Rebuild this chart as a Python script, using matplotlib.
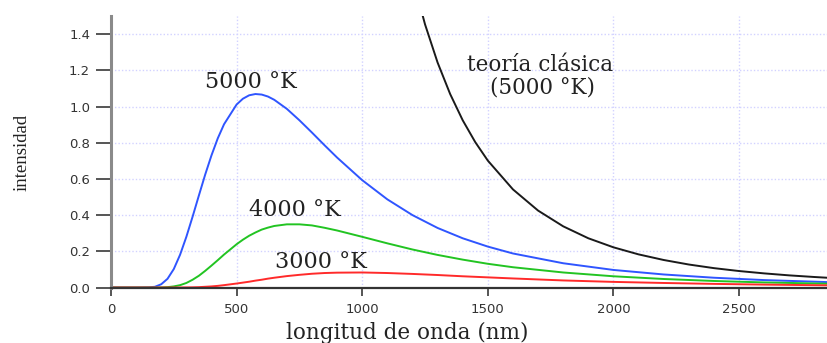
import matplotlib.pyplot as plt

# wavelength samples (nm) for the Planck curves
wavelengths = [0, 100, 150, 175, 200, 225, 250, 275, 300, 325, 350, 375, 400, 425, 450,
               500, 525, 550, 575, 600, 625, 650, 700, 750, 800, 850, 900, 1000, 1100,
               1200, 1300, 1400, 1500, 1600, 1800, 2000, 2200, 2400, 2600, 2850]

intensity_5000 = [0, 0, 0.001, 0.004, 0.018, 0.048, 0.102, 0.181, 0.280, 0.392, 0.509,
                  0.624, 0.730, 0.824, 0.902, 1.011, 1.043, 1.062, 1.069, 1.066, 1.055,
                  1.037, 0.987, 0.924, 0.856, 0.786, 0.718, 0.593, 0.487, 0.400, 0.329,
                  0.272, 0.226, 0.188, 0.134, 0.097, 0.072, 0.054, 0.041, 0.030]

intensity_4000 = [0, 0, 0, 0, 0.0005, 0.002, 0.006, 0.013, 0.025, 0.043, 0.065, 0.092,
                  0.121, 0.151, 0.182, 0.239, 0.264, 0.286, 0.304, 0.320, 0.331, 0.340,
                  0.349, 0.349, 0.343, 0.330, 0.315, 0.280, 0.244, 0.210, 0.180, 0.154,
                  0.131, 0.112, 0.083, 0.062, 0.047, 0.036, 0.028, 0.021]

intensity_3000 = [0, 0, 0, 0, 0, 0, 0, 0.0002, 0.0005, 0.001, 0.002, 0.004, 0.006, 0.009,
                  0.013, 0.022, 0.027, 0.032, 0.038, 0.043, 0.049, 0.054, 0.063, 0.070,
                  0.076, 0.080, 0.082, 0.083, 0.080, 0.075, 0.069, 0.062, 0.056, 0.050,
                  0.039, 0.031, 0.025, 0.020, 0.016, 0.012]

# classical theory (Rayleigh-Jeans) at 5000 K
classic_wavelengths = [1200, 1250, 1300, 1350, 1400, 1450, 1500, 1600, 1700, 1800, 1900,
                       2000, 2100, 2200, 2300, 2400, 2500, 2600, 2700, 2800, 2850]
classic_5000 = [1.712, 1.454, 1.243, 1.069, 0.924, 0.803, 0.701, 0.542, 0.425, 0.338,
                0.272, 0.222, 0.183, 0.152, 0.127, 0.107, 0.091, 0.078, 0.067, 0.058,
                0.054]

x_ticks = [0, 500, 1000, 1500, 2000, 2500]
y_ticks = [0.0, 0.2, 0.4, 0.6, 0.8, 1.0, 1.2, 1.4]

fig = plt.figure(figsize=(8.27, 3.43), dpi=100)
ax = fig.add_axes([0.1342, 0.1618, 0.8658, 0.7915])

ax.plot(classic_wavelengths, classic_5000, color='#1a1a1a', lw=1.4)
ax.plot(wavelengths, intensity_5000, color='#2f55ff', lw=1.4)
ax.plot(wavelengths, intensity_4000, color='#22c422', lw=1.4)
ax.plot(wavelengths, intensity_3000, color='#ff2a2a', lw=1.4)

ax.set_xlim(0, 2850)
ax.set_ylim(0, 1.5)
ax.set_xticks(x_ticks)
ax.set_yticks(y_ticks)
ax.set_yticklabels([f'{v:.1f}' for v in y_ticks])

ax.grid(True, color='#d2d2ff', linestyle=(0, (1, 1.5)), lw=1.0)
ax.set_axisbelow(True)

for side in ['top', 'right']:
    ax.spines[side].set_visible(False)
ax.spines['left'].set_color('#8a8a8a')
ax.spines['left'].set_linewidth(2.2)
ax.spines['bottom'].set_color('#333333')
ax.spines['bottom'].set_linewidth(1.6)

ax.tick_params(axis='y', length=11, width=1.4, color='#555555', pad=4,
               labelsize=9.5, labelcolor='#333333')
ax.tick_params(axis='x', length=6, width=1.4, color='#555555', pad=5,
               labelsize=9.5, labelcolor='#333333')

serif = 'DejaVu Serif'
ax.text(557, 1.133, '5000 °K', family=serif, fontsize=16, ha='center', va='center', color='#222222')
ax.text(732, 0.43, '4000 °K', family=serif, fontsize=16, ha='center', va='center', color='#222222')
ax.text(836, 0.14, '3000 °K', family=serif, fontsize=16, ha='center', va='center', color='#222222')
ax.text(1707, 1.227, 'teoría clásica', family=serif, fontsize=15.5, ha='center', va='center', color='#222222')
ax.text(1716, 1.105, '(5000 °K)', family=serif, fontsize=15.5, ha='center', va='center', color='#222222')

fig.text(22 / 827, 1 - 152 / 343, 'intensidad', family='Liberation Serif', fontsize=13.5,
         rotation=90, ha='center', va='center', color='#222222')
fig.text(407 / 827, 1 - 333 / 343, 'longitud de onda (nm)', family=serif, fontsize=15.5,
         ha='center', va='center', color='#222222')

fig.savefig('out.png', dpi=100)
